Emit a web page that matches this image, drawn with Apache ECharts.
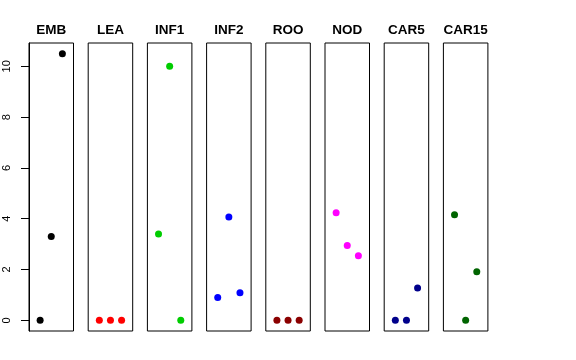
<!DOCTYPE html>
<html><head><meta charset="utf-8">
<script src="https://cdn.jsdelivr.net/npm/echarts@6/dist/echarts.min.js"></script>
<style>html,body{margin:0;padding:0;background:#fff}#c{width:576px;height:360px}</style>
</head><body><div id="c"></div>
<script>
const panels = ['EMB','LEA','INF1','INF2','ROO','NOD','CAR5','CAR15'];
const colors = ['#000000','#FF0000','#00CD00','#0000FF','#8B0000','#FF00FF','#00008B','#006400'];
const xPositions = [1, 2, 3];
const EMB = [0, 3.3, 10.5];
const LEA = [0, 0, 0];
const INF1 = [3.4, 10.0, 0];
const INF2 = [0.9, 4.07, 1.09];
const ROO = [0, 0, 0];
const NOD = [4.24, 2.95, 2.54];
const CAR5 = [0, 0, 1.27];
const CAR15 = [4.16, 0, 1.91];
const values = [EMB, LEA, INF1, INF2, ROO, NOD, CAR5, CAR15];
const yTicks = [0, 2, 4, 6, 8, 10];

(function () {
  const left0 = 29, pitch = 59.2, pw = 44.5, ptop = 43, ph = 288;
  const grid = [], xAxis = [], yAxis = [], series = [], title = [];
  panels.forEach((name, i) => {
    const l = left0 + pitch * i;
    grid.push({left: l, top: ptop, width: pw, height: ph, show: true, borderColor: '#000', borderWidth: 1, backgroundColor: 'transparent'});
    xAxis.push({gridIndex: i, type: 'value', min: 0, max: 4, show: false});
    yAxis.push({gridIndex: i, type: 'value', min: -0.42, max: 10.92, show: i === 0,
      axisLine: {show: true, onZero: false, lineStyle: {color: '#000', width: 1}},
      splitLine: {show: false},
      axisTick: {show: true, inside: false, length: 8, customValues: yTicks, lineStyle: {color: '#000', width: 1}},
      axisLabel: {show: true, customValues: yTicks, rotate: 90, margin: 17, fontSize: 11,
        fontFamily: 'Liberation Sans, Arial, sans-serif', color: '#000'}});
    series.push({type: 'scatter', xAxisIndex: i, yAxisIndex: i, symbolSize: 7,
      itemStyle: {color: colors[i], opacity: 1}, silent: true,
      data: values[i].map((v, k) => [xPositions[k], v])});
    title.push({text: name, left: l + pw / 2, top: 23, textAlign: 'center', padding: 0,
      textStyle: {fontSize: 13.5, fontWeight: 'bold', color: '#000', fontFamily: 'Liberation Sans, Arial, sans-serif'}});
  });
  const chart = echarts.init(document.getElementById('c'), null, {renderer: 'canvas'});
  chart.setOption({animation: false, title, grid, xAxis, yAxis, series});
})();
</script></body></html>
